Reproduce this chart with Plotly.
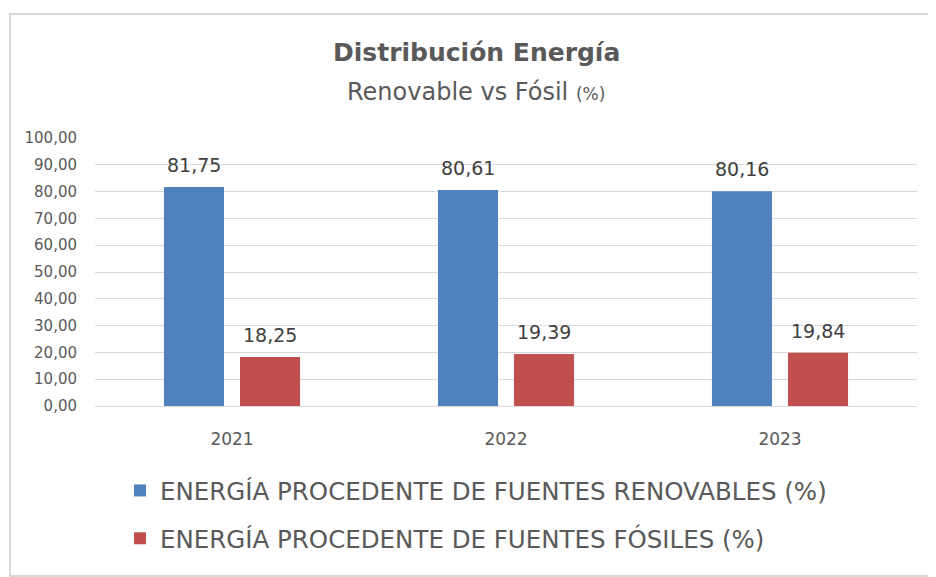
import plotly.graph_objects as go

years = ["2021", "2022", "2023"]
renovables = [81.75, 80.61, 80.16]
fosiles = [18.25, 19.39, 19.84]
series_names = ["ENERGÍA PROCEDENTE DE FUENTES RENOVABLES (%)",
                "ENERGÍA PROCEDENTE DE FUENTES FÓSILES (%)"]
tick_vals = [0, 10, 20, 30, 40, 50, 60, 70, 80, 90, 100]

OFF = 8  # page body margin
W, H = 936 - OFF, 577 - OFF
# plot area in screen coords: x 95..917, y 138..406
L, T = 95 - OFF, 138 - OFF
R, B = W - (917 - OFF), H - (406 - OFF)
pw, ph = W - L - R, H - T - B

def px(x):  # screen x -> paper
    return (x - OFF - L) / pw

def py(y):  # screen y -> paper
    return (H - B - (y - OFF)) / ph

FONT = "DejaVu Sans"

fig = go.Figure()
fig.add_trace(go.Bar(x=years, y=renovables, name=series_names[0], legendgroup="a",
                     marker=dict(color="#4F81BD", line=dict(width=0))))
fig.add_trace(go.Bar(x=years, y=fosiles, name=series_names[1], legendgroup="b",
                     marker=dict(color="#C0504D", line=dict(width=0))))

# data labels placed at each bar's value on the axes (x = category index)
def fmt(v):
    return f"{v:.2f}".replace(".", ",")

labels = []
for series, shift in ((renovables, -38), (fosiles, 38)):
    for idx, v in enumerate(series):
        labels.append(dict(x=idx, y=v, xref="x", yref="y", text=fmt(v), showarrow=False,
                           xshift=shift, yshift=22, xanchor="center", yanchor="middle",
                           font=dict(size=19, color="#404040", family=FONT)))

fig.update_layout(
    width=W, height=H,
    margin=dict(l=L, r=R, t=T, b=B, autoexpand=False),
    paper_bgcolor="white", plot_bgcolor="white",
    separators=",.",
    barmode="group", bargap=0.445, bargroupgap=0.21,
    font=dict(family=FONT, color="#595959"),
    showlegend=True,
    legend=dict(orientation="v", x=px(120), y=py(468), xanchor="left", yanchor="top",
                font=dict(size=24.5, color="#595959", family=FONT),
                itemsizing="constant", tracegroupgap=13, bgcolor="rgba(0,0,0,0)"),
    xaxis=dict(type="category", showgrid=False, showline=False, ticks="", zeroline=False,
               ticklabelstandoff=21,
               tickfont=dict(size=17, color="#595959", family=FONT)),
    yaxis=dict(range=[0, 100], tickvals=tick_vals, tickformat=".2f",
               showgrid=True, gridcolor="#D9D9D9", gridwidth=1,
               zeroline=True, zerolinecolor="#D9D9D9", zerolinewidth=1,
               showline=False, ticks="", ticklabelstandoff=17,
               tickfont=dict(size=15, color="#595959", family=FONT)),
    annotations=labels + [
        dict(text="<b>Distribución Energía</b>", x=px(476), y=py(52), xref="paper", yref="paper",
             showarrow=False, xanchor="center", yanchor="middle",
             font=dict(size=25, color="#595959", family=FONT)),
        dict(text="Renovable vs Fósil <span style='font-size:17px'>(%)</span>", x=px(476), y=py(92),
             xref="paper", yref="paper", showarrow=False, xanchor="center", yanchor="middle",
             font=dict(size=24, color="#595959", family=FONT)),
    ],
    shapes=[
        dict(type="rect", xref="paper", yref="paper",
             x0=px(10), x1=px(940), y0=py(576), y1=py(14),
             line=dict(color="#D9D9D9", width=2), fillcolor="rgba(0,0,0,0)", layer="below"),
    ],
)

fig.write_html("out.html")
